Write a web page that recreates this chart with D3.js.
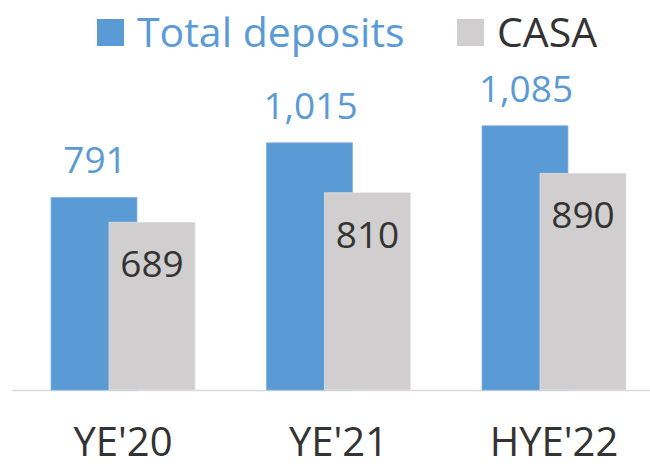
<!DOCTYPE html>
<html>
<head>
<meta charset="utf-8">
<script src="https://cdn.jsdelivr.net/npm/d3@7"></script>
<style>
  body { margin: 0; background: #fff; }
  svg { display: block; font-family: "Open Sans", "Noto Sans", sans-serif; }
</style>
</head>
<body>
<div id="chart"></div>
<script>
// data
const categories = ["YE'20", "YE'21", "HYE'22"];
const totalDeposits = [791, 1015, 1085];
const casa = [689, 810, 890];
const seriesNames = ["Total deposits", "CASA"];

const width = 650, height = 469;
const baseline = 390;

const svg = d3.select("#chart")
  .append("svg")
  .attr("width", width)
  .attr("height", height);

// x scale: one band per category, bars overlap inside the band
const x = d3.scaleBand()
  .domain(categories)
  .range([15.25, 661.75])
  .paddingInner(0.332)
  .paddingOuter(0.166);

const barW = x.bandwidth() * 0.597;
const greyOffset = x.bandwidth() * 0.403;

const y = d3.scaleLinear()
  .domain([0, 1200])
  .range([baseline, baseline - 1200 * 0.2435]);

const blue = "#5b9bd5", grey = "#d0cece", dark = "#333333";

// axis line
svg.append("line")
  .attr("x1", 12).attr("x2", width)
  .attr("y1", baseline + 0.5).attr("y2", baseline + 0.5)
  .attr("stroke", "#d9d9d9")
  .attr("stroke-width", 1.5);

// blue bars (behind)
svg.selectAll(".bar-total")
  .data(totalDeposits)
  .join("rect")
  .attr("class", "bar-total")
  .attr("x", (d, i) => x(categories[i]))
  .attr("y", d => y(d))
  .attr("width", barW)
  .attr("height", d => baseline - y(d))
  .attr("fill", blue)
  .attr("stroke", "#7fb1de")
  .attr("stroke-width", 0.75);

// grey bars (in front)
svg.selectAll(".bar-casa")
  .data(casa)
  .join("rect")
  .attr("class", "bar-casa")
  .attr("x", (d, i) => x(categories[i]) + greyOffset)
  .attr("y", d => y(d))
  .attr("width", barW)
  .attr("height", d => baseline - y(d))
  .attr("fill", grey)
  .attr("stroke", "#e4e3e3")
  .attr("stroke-width", 0.75);

// labels above blue bars
svg.selectAll(".lbl-total")
  .data(totalDeposits)
  .join("text")
  .attr("class", "lbl-total")
  .attr("x", (d, i) => x(categories[i]) + barW / 2 + 1)
  .attr("y", d => y(d) - 24)
  .attr("text-anchor", "middle")
  .attr("font-size", 37)
  .attr("fill", blue)
  .text(d => d3.format(",")(d));

// labels inside grey bars
svg.selectAll(".lbl-casa")
  .data(casa)
  .join("text")
  .attr("class", "lbl-casa")
  .attr("x", (d, i) => x(categories[i]) + greyOffset + barW / 2)
  .attr("y", d => y(d) + 55)
  .attr("text-anchor", "middle")
  .attr("font-size", 37)
  .attr("fill", dark)
  .text(d => d3.format(",")(d));

// category labels
svg.selectAll(".cat")
  .data(categories)
  .join("text")
  .attr("class", "cat")
  .attr("x", d => x(d) + x.bandwidth() / 2)
  .attr("y", 456)
  .attr("text-anchor", "middle")
  .attr("font-size", 40)
  .attr("fill", dark)
  .text(d => d);

// legend
const legend = [
  { name: seriesNames[0], color: blue, text: blue, x: 97 },
  { name: seriesNames[1], color: grey, text: dark, x: 457 }
];
const lg = svg.selectAll(".legend")
  .data(legend)
  .join("g")
  .attr("class", "legend")
  .attr("transform", d => `translate(${d.x},19)`);
lg.append("rect")
  .attr("width", 27).attr("height", 27)
  .attr("fill", d => d.color);
lg.append("text")
  .attr("x", 40)
  .attr("y", 28)
  .attr("font-size", 41)
  .attr("fill", d => d.text)
  .text(d => d.name);
</script>
</body>
</html>
